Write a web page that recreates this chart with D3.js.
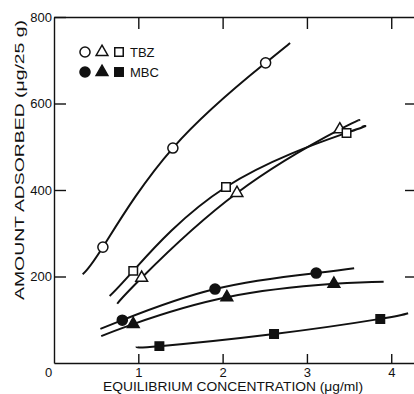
<!DOCTYPE html>
<html>
<head>
<meta charset="utf-8">
<script src="https://cdn.jsdelivr.net/npm/d3@7"></script>
<style>
  body { margin: 0; background: #fff; }
  svg { display: block; }
  text { font-family: "Liberation Sans", Arial, sans-serif; fill: #111; }
</style>
</head>
<body>
<svg id="chart" width="414" height="394"></svg>
<script>
// tick values
const xTicks = [1, 2, 3, 4];
const yTicks = [200, 400, 600, 800];

// TBZ (open symbols) - measured points
const tbzCircleX = [0.58, 1.41, 2.51];
const tbzCircleY = [268, 497, 694];
const tbzTriangleX = [1.04, 2.17, 3.39];
const tbzTriangleY = [197, 393, 540];
const tbzSquareX = [0.94, 2.04, 3.47];
const tbzSquareY = [213, 407, 532];

// MBC (filled symbols) - measured points
const mbcCircleX = [0.81, 1.91, 3.11];
const mbcCircleY = [99, 171, 208];
const mbcTriangleX = [0.94, 2.05, 3.32];
const mbcTriangleY = [90, 152, 183];
const mbcSquareX = [1.25, 2.61, 3.87];
const mbcSquareY = [39, 67, 102];

// hand-drawn fitted curves
const tbzCircleCurveX = [0.34, 0.58, 1.41, 2.51, 2.8];
const tbzCircleCurveY = [205, 268, 497, 694, 740];
const tbzTriangleCurveX = [0.75, 1.04, 2.17, 3.39, 3.62];
const tbzTriangleCurveY = [137, 197, 393, 540, 560];
const tbzSquareCurveX = [0.66, 0.94, 2.04, 3.47, 3.65];
const tbzSquareCurveY = [155, 213, 407, 532, 546];
const mbcCircleCurveX = [0.55, 0.81, 1.91, 3.11, 3.56];
const mbcCircleCurveY = [79, 99, 171, 208, 219];
const mbcTriangleCurveX = [0.56, 0.94, 2.05, 3.32, 3.91];
const mbcTriangleCurveY = [62, 90, 152, 183, 188];
const mbcSquareCurveX = [0.98, 1.25, 2.61, 3.87, 4.2];
const mbcSquareCurveY = [38, 39, 67, 102, 115];

const zip = (xs, ys) => xs.map((x, i) => [x, ys[i]]);

const svg = d3.select('#chart');
const margin = { left: 54, top: 17, bottom: 31 };
const x = d3.scaleLinear().domain([0, 4.27]).range([margin.left, 414]);
const y = d3.scaleLinear().domain([0, 800]).range([363, margin.top]);

// axes, ticks pointing inward
const axisStyle = g => {
  g.selectAll('path, line').attr('stroke', '#111').attr('stroke-width', 1.4);
  g.selectAll('text').attr('font-size', 13).attr('fill', '#111')
    .style('font-family', '"Liberation Sans", Arial, sans-serif');
};

svg.append('g')
  .attr('transform', `translate(0,${y(0)})`)
  .call(d3.axisBottom(x).tickValues(xTicks).tickSize(-9).tickSizeOuter(0).tickPadding(5).tickFormat(d3.format('d')))
  .call(axisStyle);

svg.append('g')
  .attr('transform', `translate(${x(0)},0)`)
  .call(d3.axisLeft(y).tickValues(yTicks).tickSize(-12).tickSizeOuter(0).tickPadding(2).tickFormat(d3.format('d')))
  .call(axisStyle);

svg.append('g')
  .attr('transform', `translate(0,${y(800)})`)
  .call(d3.axisTop(x).tickValues(xTicks).tickSize(-12).tickSizeOuter(0).tickFormat(''))
  .call(axisStyle);

// right side: frame line sits just past the picture edge, only the ticks show
const rightAxis = svg.append('g')
  .attr('transform', `translate(${x(4.27) + 1},0)`)
  .call(d3.axisRight(y).tickValues([200, 400, 600]).tickSize(-10).tickSizeOuter(0).tickFormat(''))
  .call(axisStyle);
rightAxis.select('.domain').remove();

// origin label
svg.append('text')
  .attr('x', x(0) - 9)
  .attr('y', y(0) + 14)
  .attr('font-size', 13)
  .text('0');

// axis titles
svg.append('text')
  .attr('x', 233)
  .attr('y', 391)
  .attr('text-anchor', 'middle')
  .attr('font-size', 12.5)
  .attr('textLength', 260)
  .attr('lengthAdjust', 'spacingAndGlyphs')
  .text('EQUILIBRIUM  CONCENTRATION (\u03bcg/ml)');

svg.append('text')
  .attr('transform', 'translate(24,160) rotate(-90)')
  .attr('text-anchor', 'middle')
  .attr('font-size', 12.5)
  .attr('textLength', 280)
  .attr('lengthAdjust', 'spacingAndGlyphs')
  .text('AMOUNT  ADSORBED  (\u03bcg/25 g)');

// curves
const line = d3.line()
  .x(d => x(d[0]))
  .y(d => y(d[1]))
  .curve(d3.curveNatural);

const curves = [
  zip(tbzCircleCurveX, tbzCircleCurveY),
  zip(tbzTriangleCurveX, tbzTriangleCurveY),
  zip(tbzSquareCurveX, tbzSquareCurveY),
  zip(mbcCircleCurveX, mbcCircleCurveY),
  zip(mbcTriangleCurveX, mbcTriangleCurveY),
  zip(mbcSquareCurveX, mbcSquareCurveY)
];

svg.append('g')
  .selectAll('path')
  .data(curves)
  .enter()
  .append('path')
  .attr('d', line)
  .attr('fill', 'none')
  .attr('stroke', '#111')
  .attr('stroke-width', 2);

// markers
const shapes = {
  circle: d3.symbol().type(d3.symbolCircle).size(80),
  triangle: d3.symbol().type(d3.symbolTriangle).size(60),
  square: d3.symbol().type(d3.symbolSquare).size(72)
};

const series = [
  { pts: zip(tbzCircleX, tbzCircleY), shape: 'circle', filled: false },
  { pts: zip(tbzTriangleX, tbzTriangleY), shape: 'triangle', filled: false },
  { pts: zip(tbzSquareX, tbzSquareY), shape: 'square', filled: false },
  { pts: zip(mbcCircleX, mbcCircleY), shape: 'circle', filled: true },
  { pts: zip(mbcTriangleX, mbcTriangleY), shape: 'triangle', filled: true },
  { pts: zip(mbcSquareX, mbcSquareY), shape: 'square', filled: true }
];

series.forEach(s => {
  svg.append('g')
    .selectAll('path')
    .data(s.pts)
    .enter()
    .append('path')
    .attr('transform', d => `translate(${x(d[0])},${y(d[1])})`)
    .attr('d', shapes[s.shape]())
    .attr('fill', s.filled ? '#111' : '#fff')
    .attr('stroke', '#111')
    .attr('stroke-width', 1.5);
});

// legend
const legend = svg.append('g').attr('transform', 'translate(85,52)');
const legendRows = [
  { label: 'TBZ', filled: false },
  { label: 'MBC', filled: true }
];
legendRows.forEach((row, i) => {
  const g = legend.append('g').attr('transform', `translate(0,${i * 20})`);
  ['circle', 'triangle', 'square'].forEach((shape, j) => {
    g.append('path')
      .attr('transform', `translate(${j * 17},0)`)
      .attr('d', shapes[shape]())
      .attr('fill', row.filled ? '#111' : '#fff')
      .attr('stroke', '#111')
      .attr('stroke-width', 1.5);
  });
  g.append('text')
    .attr('x', 45)
    .attr('y', 0)
    .attr('dy', '0.36em')
    .attr('font-size', 13)
    .text(row.label);
});
</script>
</body>
</html>
